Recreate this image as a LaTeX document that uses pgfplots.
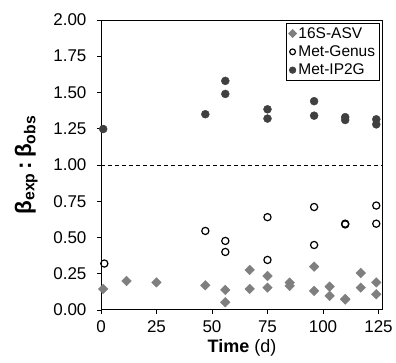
\documentclass[border=0pt]{standalone}
\usepackage{pgfplots}
\pgfplotsset{compat=1.18}
\usepackage{fontspec}
\setmainfont{Liberation Sans}
\definecolor{asv}{HTML}{7F7F7F}
\definecolor{ipg}{HTML}{404040}
\begin{document}
\begin{tikzpicture}
\begin{axis}[
  scale only axis,
  width=282pt, height=290pt,
  xmin=0, xmax=127, ymin=0, ymax=2,
  xtick={0,25,50,75,100,125},
  ytick={0,0.25,0.5,0.75,1,1.25,1.5,1.75,2},
  yticklabel style={xshift=-7pt, /pgf/number format/.cd, fixed, fixed zerofill, precision=2},
  xticklabel style={yshift=-3pt},
  /pgf/number format/assume math mode=true,
  tick label style={font=\fontsize{17}{20}\selectfont},
  xtick pos=bottom, ytick pos=left,
  tick align=outside,
  major tick length=4pt,
  axis line style={black, line width=0.9pt},
  every tick/.style={black, line width=0.8pt},
  xlabel={\textbf{Time} (d)},
  xlabel style={font=\fontsize{18}{21}\selectfont, at={(axis description cs:0.5,-0.132)}, anchor=center},
  ylabel={\textbf{β\textsubscript{exp}\,:\,β\textsubscript{obs}}},
  ylabel style={font=\fontsize{22.5}{26}\selectfont, at={(axis description cs:-0.265,0.5)}, anchor=center},
  legend style={at={(axis description cs:0.988,0.99)}, anchor=north east,
    font=\fontsize{15.5}{17}\selectfont, draw=black, line width=0.9pt,
    inner sep=2pt, row sep=2pt, legend cell align=left},
  legend image post style={line width=0.8pt, scale=0.8},
]
\addplot[only marks, mark=square*, mark size=3.4pt, mark options={rotate=45, fill=asv, draw=asv}] coordinates {
(1,0.145) (11.5,0.20) (25,0.19) (47,0.17) (56,0.138) (56,0.053)
(67,0.276) (67,0.145) (75,0.234) (75,0.154) (85,0.189) (85,0.166)
(96,0.299) (96,0.131) (103,0.161) (103,0.097) (110,0.076) (110,0.072)
(117,0.255) (117,0.154) (124,0.19) (124,0.108)
};
\addlegendentry{16S-ASV}
\addplot[only marks, mark=o, mark size=3.6pt, mark options={draw=black, line width=1.2pt}] coordinates {
(1.5,0.32) (47,0.545) (56,0.476) (56,0.40) (75,0.64) (75,0.345)
(96,0.71) (96,0.448) (110,0.595) (110,0.59) (124,0.72) (124,0.595)
};
\addlegendentry{Met-Genus}
\addplot[only marks, mark=*, mark size=4pt, mark options={fill=ipg, draw=ipg}] coordinates {
(1,1.248) (47,1.35) (56,1.58) (56,1.49) (75,1.384) (75,1.32)
(96,1.44) (96,1.34) (110,1.33) (110,1.31) (124,1.315) (124,1.28)
};
\addlegendentry{Met-IP2G}
\addplot[black, line width=0.8pt, dash pattern=on 4pt off 3pt, forget plot] coordinates {(0,1) (127,1)};
\end{axis}
\path (current axis.south west) ++(-101pt,-53pt) coordinate (bbA);
\path (current axis.north east) ++(13pt,20pt) coordinate (bbB);
\useasboundingbox (bbA) rectangle (bbB);
\end{tikzpicture}
\end{document}
